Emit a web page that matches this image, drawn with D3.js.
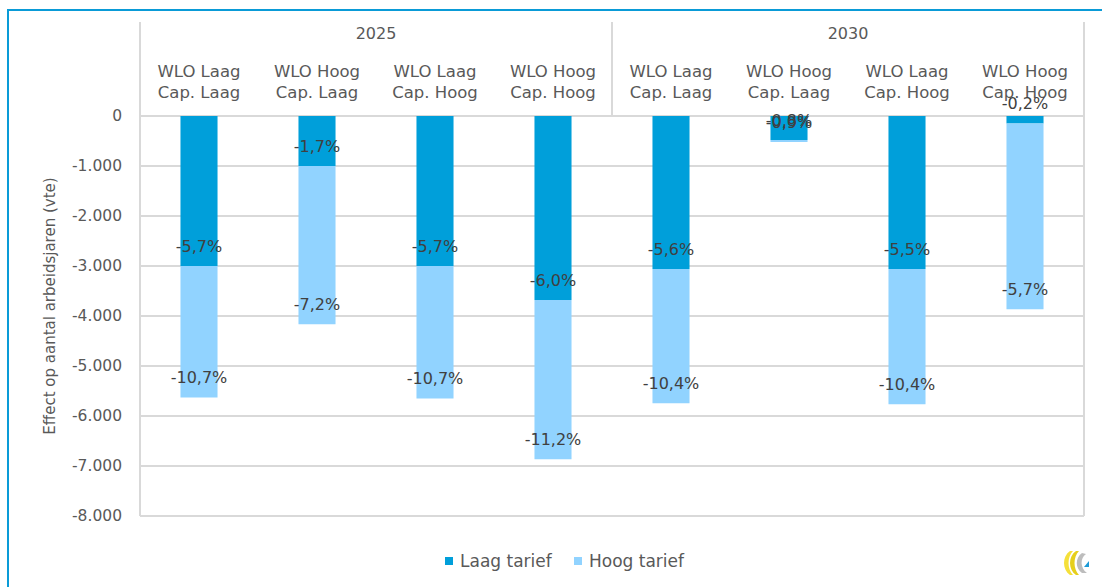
<!DOCTYPE html>
<html><head><meta charset="utf-8">
<script src="https://cdn.jsdelivr.net/npm/d3@7"></script>
<style>
html,body{margin:0;padding:0;background:#fff;}
svg{display:block;font-family:"DejaVu Sans",sans-serif;}
</style></head>
<body>
<svg id="chart" width="1102" height="587"></svg>
<script>
// ---- data ----
const years = ["2025", "2030"];
const categoryKeys = ["2025-1","2025-2","2025-3","2025-4","2030-1","2030-2","2030-3","2030-4"];
const categoryLines = [
  ["WLO Laag","Cap. Laag"],["WLO Hoog","Cap. Laag"],["WLO Laag","Cap. Hoog"],["WLO Hoog","Cap. Hoog"],
  ["WLO Laag","Cap. Laag"],["WLO Hoog","Cap. Laag"],["WLO Laag","Cap. Hoog"],["WLO Hoog","Cap. Hoog"]
];
const laagTarief = [-3000, -1000, -3000, -3680, -3060, -480, -3060, -150];
const hoogTarief = [-2630, -3165, -2650, -3185, -2685, -40, -2705, -3715];
const laagLabels = ["-5,7%", "-1,7%", "-5,7%", "-6,0%", "-5,6%", "-0,8%", "-5,5%", "-0,2%"];
const hoogLabels = ["-10,7%", "-7,2%", "-10,7%", "-11,2%", "-10,4%", "-0,9%", "-10,4%", "-5,7%"];
const yTicks = [0, -1000, -2000, -3000, -4000, -5000, -6000, -7000, -8000];
const seriesNames = ["Laag tarief", "Hoog tarief"];
const colors = ["#009FDA", "#91D3FF"];
const yTitle = "Effect op aantal arbeidsjaren (vte)";

// ---- layout ----
const svg = d3.select("#chart");
const L = 140, R = 1084, T = 116, B = 516, headTop = 22;
const x = d3.scaleBand().domain(categoryKeys).range([L, R]).paddingInner(0.686).paddingOuter(0.343);
const y = d3.scaleLinear().domain([-8000, 0]).range([B, T]);
const loc = d3.formatLocale({decimal: ",", thousands: ".", grouping: [3], currency: ["€", ""], minus: "-"});
const fmt = loc.format(",d");

// frame
svg.append("rect").attr("x", 8).attr("y", 10).attr("width", 1110).attr("height", 600)
  .attr("fill", "none").attr("stroke", "#0A9BD7").attr("stroke-width", 2);

// gridlines
svg.append("g").selectAll("line").data(yTicks).join("line")
  .attr("x1", L).attr("x2", R).attr("y1", d => y(d)).attr("y2", d => y(d))
  .attr("stroke", "#D9D9D9").attr("stroke-width", 2);

// vertical header / frame lines
svg.append("line").attr("x1", L).attr("x2", L).attr("y1", headTop).attr("y2", B).attr("stroke", "#D9D9D9").attr("stroke-width", 2);
svg.append("line").attr("x1", R).attr("x2", R).attr("y1", headTop).attr("y2", B).attr("stroke", "#D9D9D9").attr("stroke-width", 2);
const mid = x(categoryKeys[4]) - x.step() * x.paddingInner() / 2;
svg.append("line").attr("x1", mid).attr("x2", mid).attr("y1", headTop).attr("y2", T).attr("stroke", "#D9D9D9").attr("stroke-width", 2);

// y axis labels
const yAxis = d3.axisLeft(y).tickValues(yTicks).tickFormat(fmt).tickSize(0).tickPadding(18);
const ya = svg.append("g").attr("transform", `translate(${L},0)`).call(yAxis);
ya.select(".domain").remove();
ya.selectAll("text").attr("fill", "#595959").style("font-size", "15.5px").style("font-family", "DejaVu Sans");

// y title
svg.append("text").attr("transform", `translate(55,${(T + B) / 2 - 10}) rotate(-90)`)
  .attr("text-anchor", "middle").attr("fill", "#595959").style("font-size", "15px").text(yTitle);

// year headers
years.forEach((yr, i) => {
  const cx = (x(categoryKeys[i * 4]) + x(categoryKeys[i * 4 + 3]) + x.bandwidth()) / 2;
  svg.append("text").attr("x", cx).attr("y", 39).attr("text-anchor", "middle")
    .attr("fill", "#595959").style("font-size", "16px").text(yr);
});

// category labels
const cat = svg.append("g").selectAll("text").data(categoryKeys).join("text")
  .attr("text-anchor", "middle").attr("fill", "#595959").style("font-size", "16.5px")
  .attr("x", d => x(d) + x.bandwidth() / 2);
cat.each(function(d, i) {
  const t = d3.select(this);
  t.append("tspan").attr("x", x(d) + x.bandwidth() / 2).attr("y", 77).text(categoryLines[i][0]);
  t.append("tspan").attr("x", x(d) + x.bandwidth() / 2).attr("y", 98).text(categoryLines[i][1]);
});

// stacked bars
const rows = categoryKeys.map((k, i) => ({key: k, laag: laagTarief[i], hoog: hoogTarief[i]}));
const stack = d3.stack().keys(["laag", "hoog"]).offset(d3.stackOffsetDiverging);
const series = stack(rows);
svg.append("g").selectAll("g").data(series).join("g")
  .attr("fill", (d, i) => colors[i])
  .selectAll("rect").data(d => d).join("rect")
  .attr("x", d => x(d.data.key)).attr("width", x.bandwidth())
  .attr("y", d => y(Math.max(d[0], d[1])))
  .attr("height", d => Math.abs(y(d[0]) - y(d[1])));

// data labels (inside end)
const labelSets = [laagLabels, hoogLabels];
series.forEach((s, si) => {
  svg.append("g").selectAll("text").data(s).join("text")
    .attr("x", d => x(d.data.key) + x.bandwidth() / 2)
    .attr("y", d => y(Math.min(d[0], d[1])) - 20)
    .attr("dy", "0.35em").attr("text-anchor", "middle")
    .attr("fill", "#404040").style("font-size", "16px")
    .text((d, i) => labelSets[si][i]);
});

// legend
const leg = svg.append("g");
const legX = [445, 574];
seriesNames.forEach((n, i) => {
  leg.append("rect").attr("x", legX[i]).attr("y", 557).attr("width", 8).attr("height", 8).attr("fill", colors[i]);
  leg.append("text").attr("x", legX[i] + 15).attr("y", 567).attr("fill", "#595959").style("font-size", "17px").text(n);
});

// small logo
const logo = svg.append("g").attr("transform", "translate(1062,549)");
logo.append("path").attr("d", "M8,2 C0,7 0,21 8,26 L11,26 C5,20 5,8 11,2 Z").attr("fill", "#F5E03A");
logo.append("path").attr("d", "M14,2 C6,7 6,21 14,26 L17,26 C11,20 11,8 17,2 Z").attr("fill", "#E6CF1C");
logo.append("path").attr("d", "M20,4 C13,9 13,19 20,24 L25,24 C18,19 18,9 24,5 Z").attr("fill", "#BDBDBD");
logo.append("path").attr("d", "M22,18 L27,12 L27,18 Z").attr("fill", "#1E9BD7");
</script>
</body></html>
